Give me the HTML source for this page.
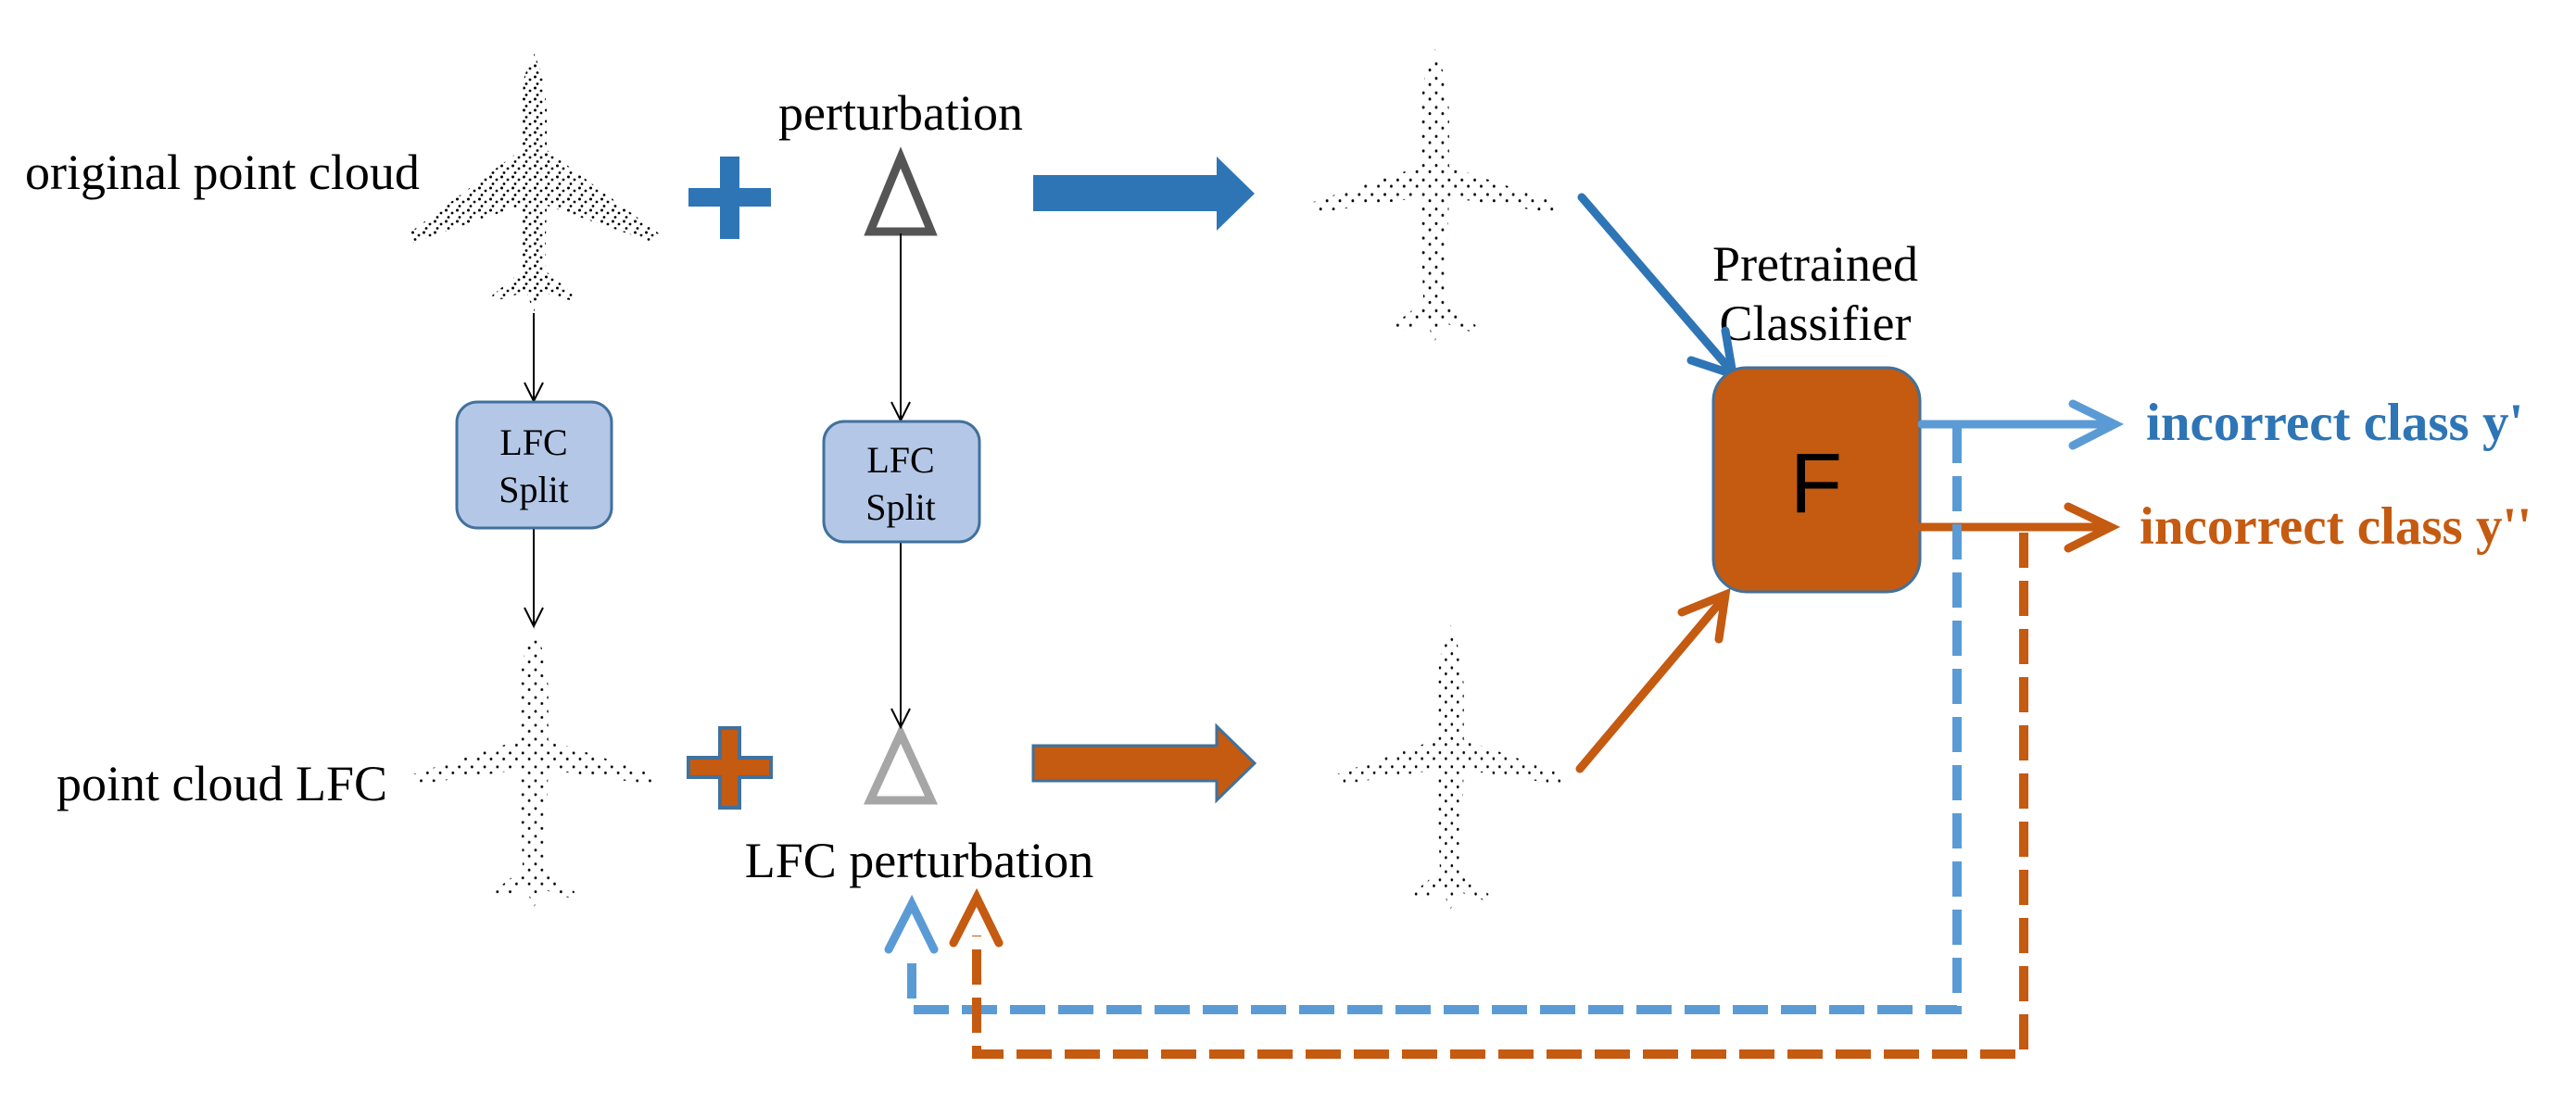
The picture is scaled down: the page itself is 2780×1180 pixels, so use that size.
<!DOCTYPE html>
<html><head><meta charset="utf-8"><style>
html,body{margin:0;padding:0;background:#fff;}
svg{display:block;}
text{font-family:"Liberation Serif",serif;}
</style></head><body>
<svg width="2780" height="1180" viewBox="0 0 2780 1180" xmlns="http://www.w3.org/2000/svg">
<defs>
<pattern id="dots" width="12" height="12" patternUnits="userSpaceOnUse">
<circle cx="1.5" cy="2" r="1.5" fill="#000"/><circle cx="8" cy="5" r="1.4" fill="#000"/><circle cx="4" cy="9.5" r="1.4" fill="#000"/>
</pattern>
<pattern id="dots2" width="14" height="14" patternUnits="userSpaceOnUse">
<circle cx="2" cy="2" r="1.4" fill="#000"/><circle cx="9" cy="8" r="1.4" fill="#000"/>
</pattern>
<path id="plane" d="M0,0 L10,25 L14,60 L14,105 L135,195 L130,205 L14,165 L12,235 L45,262 L42,268 L8,258 L0,280 L-8,258 L-42,268 L-45,262 L-12,235 L-14,165 L-130,205 L-135,195 L-14,105 L-14,60 L-10,25 Z"/>
<path id="planeB" d="M0,0 L10,25 L16,60 L16,115 L135,150 L132,160 L16,145 L12,245 L45,268 L42,275 L8,265 L0,285 L-8,265 L-42,275 L-45,268 L-12,245 L-16,145 L-132,160 L-135,150 L-16,115 L-16,60 L-10,25 Z"/>
</defs>

<!-- planes -->
<use href="#plane" transform="translate(576,57)" fill="url(#dots)"/>
<use href="#planeB" transform="translate(576,676) scale(0.98,1.07)" fill="url(#dots2)"/>
<use href="#planeB" transform="translate(1548,51) scale(0.99,1.12)" fill="url(#dots2)"/>
<use href="#planeB" transform="translate(1565,673) scale(0.92,1.09)" fill="url(#dots2)"/>

<!-- labels -->
<text x="27" y="204" font-size="54">original point cloud</text>
<text x="61" y="864" font-size="54">point cloud LFC</text>
<text x="972" y="140" font-size="54" text-anchor="middle">perturbation</text>
<text x="992" y="947" font-size="54" text-anchor="middle">LFC perturbation</text>
<text x="1959" y="303" font-size="54" text-anchor="middle">Pretrained</text>
<text x="1959" y="367" font-size="54" text-anchor="middle">Classifier</text>

<!-- plus signs -->
<path d="M777,169 H798 V203 H832 V223 H798 V258 H777 V223 H743 V203 H777 Z" fill="#2E75B6"/>
<path d="M777,786 H798 V818 H832 V839 H798 V872 H777 V839 H743 V818 H777 Z" fill="#C55A11" stroke="#41719C" stroke-width="4"/>

<!-- triangles -->
<polygon points="972,170 1005,250 939,250" fill="none" stroke="#555" stroke-width="9"/>
<polygon points="972,792 1005,864 939,864" fill="none" stroke="#A6A6A6" stroke-width="9"/>

<!-- thin arrows -->
<g stroke="#000" stroke-width="2" fill="none">
<line x1="576" y1="338" x2="576" y2="433"/><polyline points="566,413 576,433 586,413"/>
<line x1="576" y1="570" x2="576" y2="676"/><polyline points="566,656 576,676 586,656"/>
<line x1="972" y1="252" x2="972" y2="454"/><polyline points="962,434 972,454 982,434"/>
<line x1="972" y1="585" x2="972" y2="785"/><polyline points="962,765 972,785 982,765"/>
</g>

<!-- LFC boxes -->
<rect x="493" y="434" width="167" height="136" rx="22" fill="#B4C7E7" stroke="#41719C" stroke-width="3"/>
<text x="576" y="491" font-size="40" text-anchor="middle">LFC</text>
<text x="576" y="542" font-size="40" text-anchor="middle">Split</text>
<rect x="889" y="455" width="168" height="130" rx="22" fill="#B4C7E7" stroke="#41719C" stroke-width="3"/>
<text x="972" y="510" font-size="40" text-anchor="middle">LFC</text>
<text x="972" y="561" font-size="40" text-anchor="middle">Split</text>

<!-- block arrows -->
<polygon points="1115,189 1313,189 1313,169 1354,209 1313,249 1313,228 1115,228" fill="#2E75B6"/>
<polygon points="1115,805 1313,805 1313,784 1354,824 1313,864 1313,843 1115,843" fill="#C55A11" stroke="#41719C" stroke-width="3"/>

<!-- diagonal arrows -->
<g stroke-width="9" stroke-linecap="round" fill="none">
<line x1="1707" y1="213" x2="1868" y2="400" stroke="#2E75B6"/>
<polyline points="1825,389 1870,404 1862,357" stroke="#2E75B6"/>
<line x1="1705" y1="830" x2="1860" y2="646" stroke="#C55A11"/>
<polyline points="1815,661 1862,642 1855,690" stroke="#C55A11"/>
</g>

<!-- F box -->
<rect x="1849" y="397" width="223" height="242" rx="36" fill="#C55A11" stroke="#41719C" stroke-width="3"/>
<text x="1960" y="553" font-size="92" text-anchor="middle" style="font-family:'Liberation Sans',sans-serif">F</text>

<!-- output arrows -->
<g stroke-width="9" stroke-linecap="round" fill="none">
<line x1="2074" y1="458" x2="2280" y2="458" stroke="#5B9BD5"/>
<polyline points="2237,436 2282,458 2237,481" stroke="#5B9BD5"/>
<line x1="2072" y1="569" x2="2276" y2="569" stroke="#C55A11"/>
<polyline points="2232,547 2278,569 2232,592" stroke="#C55A11"/>
</g>
<text x="2316" y="475" font-size="57" font-weight="bold" fill="#2E75B6">incorrect class y'</text>
<text x="2309" y="587" font-size="57" font-weight="bold" fill="#C55A11">incorrect class y''</text>

<!-- feedback dashed lines -->
<g stroke-width="10" fill="none" stroke-dasharray="38 14">
<polyline points="2112,462 2112,1090 984,1090 984,1030" stroke="#5B9BD5"/>
<polyline points="2184,575 2184,1138 1054,1138 1054,1010" stroke="#C55A11"/>
</g>
<g stroke-width="9" stroke-linecap="round" fill="none">
<polyline points="959,1025 984,976 1008,1025" stroke="#5B9BD5"/>
<polyline points="1029,1018 1054,969 1078,1018" stroke="#C55A11"/>
</g>
</svg>
</body></html>
